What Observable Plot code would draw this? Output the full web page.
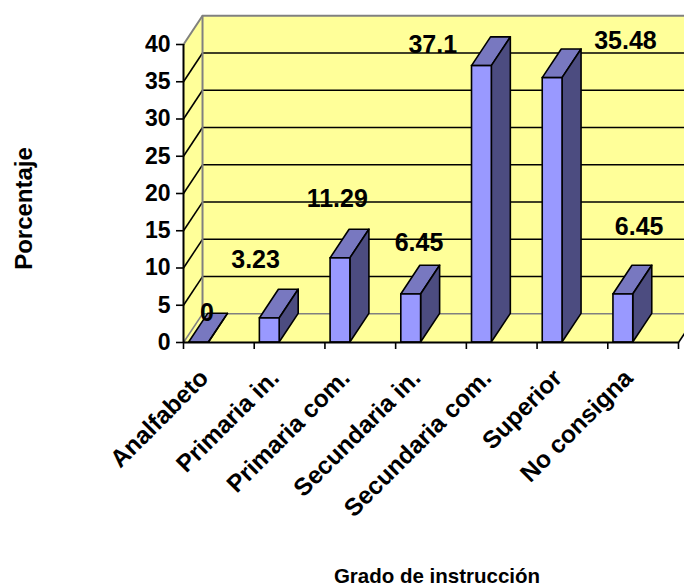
<!DOCTYPE html>
<html>
<head>
<meta charset="utf-8">
<script src="https://cdn.jsdelivr.net/npm/d3@7"></script>
<script src="https://cdn.jsdelivr.net/npm/@observablehq/plot@0.6"></script>
<style>
  html, body { margin: 0; padding: 0; background: #ffffff; }
  #chart svg { display: block; }
</style>
</head>
<body>
<div id="chart"></div>
<script>
// Education level of respondents (percent)
const categories = ["Analfabeto", "Primaria in.", "Primaria com.", "Secundaria in.", "Secundaria com.", "Superior", "No consigna"];
const percentages = [0, 3.23, 11.29, 6.45, 37.1, 35.48, 6.45];
const yTicks = [0, 5, 10, 15, 20, 25, 30, 35, 40];
const yMax = 40;

// Pixel nudges for each value label, as laid out on the chart
const valueLabelNudge = [[-12, -30], [-34, -58], [-23, -59], [-12, -51], [-69, -21], [53, -37], [-4, -67]];

// Oblique projection: depth offset expressed in scale units
const DX = 0.269;   // depth shift along x (fraction of a category slot)
const DY = 3.85;    // depth shift along y (percentage units)
const BAR_OFF = 0.08;
const BAR_W = 0.28;

const FONT = "'Liberation Sans', Arial, sans-serif";
const WALL = "#FFFF99";
const EDGE = "#808080";
const n = categories.length;
const idx = d3.range(n);

// Bar faces built from the values
const frontFaces = idx.map(i => ({i, x1: i + BAR_OFF, x2: i + BAR_OFF + BAR_W, v: percentages[i]}));
const sideFaces = idx.flatMap(i => {
  const xr = i + BAR_OFF + BAR_W, v = percentages[i];
  return [{i, x: xr, y1: 0, y2: v}, {i, x: xr + DX, y1: DY, y2: v + DY}];
});
const topFaces = idx.flatMap(i => {
  const xl = i + BAR_OFF, xr = xl + BAR_W, v = percentages[i];
  return [{i, y: v, x1: xl, x2: xr}, {i, y: v + DY, x1: xl + DX, x2: xr + DX}];
});

const innerTicks = yTicks.filter(t => t > 0 && t < yMax);

const plot = Plot.plot({
  width: 684,
  height: 588,
  marginLeft: 183,
  marginRight: 6,
  marginTop: 44,
  marginBottom: 246,
  style: {background: "#ffffff", fontFamily: FONT, color: "#000"},
  x: {type: "linear", domain: [0, n], label: null, axis: null},
  y: {domain: [0, yMax], label: null, axis: null},
  marks: [
    // back wall, left wall and floor
    Plot.rect([0], {x1: DX, x2: n + DX, y1: DY, y2: yMax + DY, fill: WALL}),
    Plot.areaY([{x: 0, y1: 0, y2: yMax}, {x: DX, y1: DY, y2: yMax + DY}], {x: "x", y1: "y1", y2: "y2", fill: WALL}),
    Plot.areaX([{y: 0, x1: 0, x2: n}, {y: DY, x1: DX, x2: n + DX}], {y: "y", x1: "x1", x2: "x2", fill: WALL}),

    // gridlines on the back wall and their diagonals on the side wall
    Plot.ruleY(innerTicks, {y: d => d + DY, x1: DX, x2: n + DX, stroke: "#000", strokeWidth: 1.6}),
    Plot.link(innerTicks, {x1: 0, y1: d => d, x2: DX, y2: d => d + DY, stroke: "#000", strokeWidth: 1.6}),

    // wall borders
    Plot.ruleY([yMax + DY], {x1: DX, x2: n + DX, stroke: EDGE, strokeWidth: 2}),
    Plot.ruleY([DY], {x1: DX, x2: n + DX, stroke: EDGE, strokeWidth: 1.6}),
    Plot.ruleX([DX], {y1: DY, y2: yMax + DY, stroke: EDGE, strokeWidth: 2}),
    Plot.link([yMax], {x1: 0, y1: d => d, x2: DX, y2: d => d + DY, stroke: EDGE, strokeWidth: 2}),
    Plot.link([0], {x1: 0, y1: 0, x2: DX, y2: DY, stroke: EDGE, strokeWidth: 1.6}),
    Plot.link([n], {x1: d => d, y1: 0, x2: d => d + DX, y2: DY, stroke: "#000", strokeWidth: 1.6}),

    // 3D bars: top, side and front faces
    Plot.areaX(topFaces, {y: "y", x1: "x1", x2: "x2", z: "i", fill: "#7878C0", stroke: "#000", strokeWidth: 1.6, strokeLinejoin: "round"}),
    Plot.areaY(sideFaces, {x: "x", y1: "y1", y2: "y2", z: "i", fill: "#4C4C80", stroke: "#000", strokeWidth: 1.6, strokeLinejoin: "round"}),
    Plot.rect(frontFaces, {x1: "x1", x2: "x2", y1: 0, y2: "v", fill: "#9999FF", stroke: "#000", strokeWidth: 1.6}),

    // axes
    Plot.ruleX([0], {y1: 0, y2: yMax, stroke: "#000", strokeWidth: 2}),
    Plot.ruleY([0], {x1: 0, x2: n, stroke: "#000", strokeWidth: 2}),
    Plot.axisY({ticks: yTicks, tickSize: 7, tickPadding: 6, fontSize: 23, fontWeight: "bold", strokeWidth: 1.6, label: null, tickFormat: d => String(d)}),
    Plot.axisX({ticks: d3.range(n + 1), tickSize: 7, tickFormat: () => "", strokeWidth: 1.6, label: null}),

    // category labels
    Plot.text(categories, {x: (d, i) => i + 0.5, y: 0, text: d => d, rotate: -45, textAnchor: "end", lineAnchor: "bottom", dx: -9, dy: 37, fontSize: 24.5, fontWeight: "bold"}),

    // value labels
    ...percentages.map((v, i) => Plot.text([v], {
      x: i + 0.5, y: d => d, text: d => String(d),
      dx: valueLabelNudge[i][0], dy: valueLabelNudge[i][1],
      fontSize: 25, fontWeight: "bold"
    })),

    // axis titles
    Plot.text(["Porcentaje"], {frameAnchor: "left", textAnchor: "middle", lineAnchor: "middle", text: d => d, rotate: -90, dx: -159, dy: 15, fontSize: 24, fontWeight: "bold"}),
    Plot.text(["Grado de instrucción"], {frameAnchor: "bottom", textAnchor: "middle", lineAnchor: "middle", text: d => d, dx: 6, dy: 233.5, fontSize: 20.5, fontWeight: "bold"})
  ]
});

document.getElementById("chart").appendChild(plot);
</script>
</body>
</html>
